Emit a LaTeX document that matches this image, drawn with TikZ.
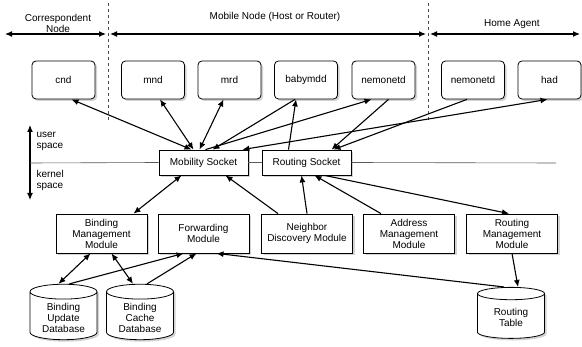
\documentclass[tikz,border=0pt]{standalone}
\usepackage{fontspec}
\setmainfont{Liberation Sans}
\usetikzlibrary{arrows.meta,shapes.geometric,shadows}
\begin{document}
\begin{tikzpicture}[x=1pt,y=-1pt,font=\fontsize{10}{11}\selectfont,
		>={Latex[length=7pt,width=6pt]},
		shade/.style={drop shadow={shadow xshift=2pt,shadow yshift=-2pt,opacity=0.35}},
		daemon/.style={draw,rounded corners=4pt,fill=white,line width=0.8pt,minimum width=63pt,minimum height=38pt,shade},
		sock/.style={draw,fill=white,line width=0.8pt,minimum width=89pt,minimum height=25pt,shade},
		module/.style={draw,fill=white,line width=0.8pt,align=center,minimum width=91pt,minimum height=39pt,shade},
		dbase/.style={draw,fill=white,line width=0.8pt,cylinder,shape border rotate=90,aspect=0.3,align=center,minimum width=67pt,minimum height=51pt,shade},
		link/.style={line width=1.1pt},
		divider/.style={dashed,line width=0.6pt,gray!60!black}]
	\useasboundingbox (0,0) rectangle (582,347);
	\draw [divider] (108,3) -- (108,122);
	\draw [divider] (428,3) -- (428,122);
	\node [align=center] (cnlabel) at (58,23) {Correspondent\\Node};
	\node (mnlabel) at (275,17) {Mobile Node (Host or Router)};
	\node (halabel) at (512,24) {Home Agent};
	\coordinate (cnleft) at (5,34);
	\coordinate (cnright) at (106,34);
	\coordinate (mnleft) at (110,34);
	\coordinate (mnright) at (426,34);
	\coordinate (haleft) at (430,34);
	\coordinate (haright) at (580,34);
	\draw [link,<->] (cnleft) -- (cnright);
	\draw [link,<->] (mnleft) -- (mnright);
	\draw [link,<->] (haleft) -- (haright);
	\node [daemon] (cnd) at (63.5,80) {cnd};
	\node [daemon] (mnd) at (153,80) {mnd};
	\node [daemon] (mrd) at (229.5,80) {mrd};
	\node [daemon] (babymdd) at (306,80) {babymdd};
	\node [daemon] (nemonetd) at (383.5,80) {nemonetd};
	\node [daemon] (hanemonetd) at (473,80) {nemonetd};
	\node [daemon] (had) at (549.5,80) {had};
	\node [sock] (msock) at (203.5,162.5) {Mobility Socket};
	\node [sock] (rsock) at (306.5,162.5) {Routing Socket};
	\coordinate (spacetop) at (30,125);
	\coordinate (spacebot) at (30,200);
	\coordinate (spaceleft) at (30,163);
	\coordinate (spaceright) at (556,163);
	\draw [link,<->] (spacetop) -- (spacebot);
	\draw [gray!70!black,line width=0.6pt] (spaceleft) -- (msock.west);
	\draw [gray!70!black,line width=0.6pt] (msock.east) -- (rsock.west);
	\draw [gray!70!black,line width=0.6pt] (rsock.east) -- (spaceright);
	\node [align=left,anchor=west] (user) at (33,141) {user\\space};
	\node [align=left,anchor=west] (kernel) at (33,180) {kernel\\space};
	\node [module] (bmm) at (101.5,233.5) {Binding\\Management\\Module};
	\node [module] (fwd) at (203.5,233.5) {Forwarding\\Module};
	\node [module] (ndm) at (307,233.5) {Neighbor\\Discovery Module};
	\node [module] (amm) at (409,233.5) {Address\\Management\\Module};
	\node [module] (rmm) at (512,233.5) {Routing\\Management\\Module};
	\node [dbase] (budb) at (63.5,317.5) {Binding\\Update\\Database};
	\node [dbase] (bcdb) at (140,317.5) {Binding\\Cache\\Database};
	\node [dbase] (rtab) at (511,317.5) {Routing\\Table};
	\draw [link,<->] ([xshift=-12pt]msock.north) -- ([xshift=8pt]cnd.south);
	\draw [link,<->] ([xshift=-10pt]msock.north) -- ([xshift=7pt]mnd.south);
	\draw [link,<->] ([xshift=-4pt]msock.north) -- ([xshift=-6pt]mrd.south);
	\draw [link,->] ([xshift=-11pt]babymdd.south) -- ([xshift=9pt]msock.north);
	\draw [link,->] ([xshift=2pt]msock.north) -- ([xshift=-12pt]nemonetd.south);
	\draw [link,<->] ([xshift=-6pt]msock.north east) -- ([xshift=-2pt]had.south);
	\draw [link,->] ([xshift=-18pt]rsock.north) -- ([xshift=-10pt]babymdd.south);
	\draw [link,->] ([xshift=5pt]nemonetd.south) -- ([xshift=25pt]rsock.north);
	\draw [link,->] ([xshift=-6pt]hanemonetd.south) -- ([xshift=27pt]rsock.north);
	\draw [link,<->] ([xshift=-22pt]msock.south) -- ([xshift=32pt]bmm.north);
	\draw [link,->] ([xshift=-29pt]ndm.north) -- ([xshift=22pt]msock.south);
	\draw [link,->] (ndm.north) -- ([xshift=-5pt]rsock.south);
	\draw [link,->] ([xshift=-28pt]amm.north) -- ([xshift=8pt]rsock.south);
	\draw [link,->] ([xshift=18pt]rsock.south) -- ([xshift=-3pt]rmm.north);
	\draw [link,->] (rmm.south) -- ([xshift=7pt]rtab.north);
	\draw [link,->] ([xshift=-7pt]rtab.north) -- ([xshift=13pt]fwd.south);
	\draw [link,<->] ([xshift=-11pt]bmm.south) -- ([xshift=-5pt]budb.north);
	\draw [link,<->] ([xshift=10pt]bmm.south) -- ([xshift=-7pt]bcdb.north);
	\draw [link,->] ([xshift=6pt]budb.north) -- ([xshift=-20pt]fwd.south);
	\draw [link,->] ([xshift=7pt]bcdb.north) -- ([xshift=-7pt]fwd.south);
\end{tikzpicture}
\end{document}
